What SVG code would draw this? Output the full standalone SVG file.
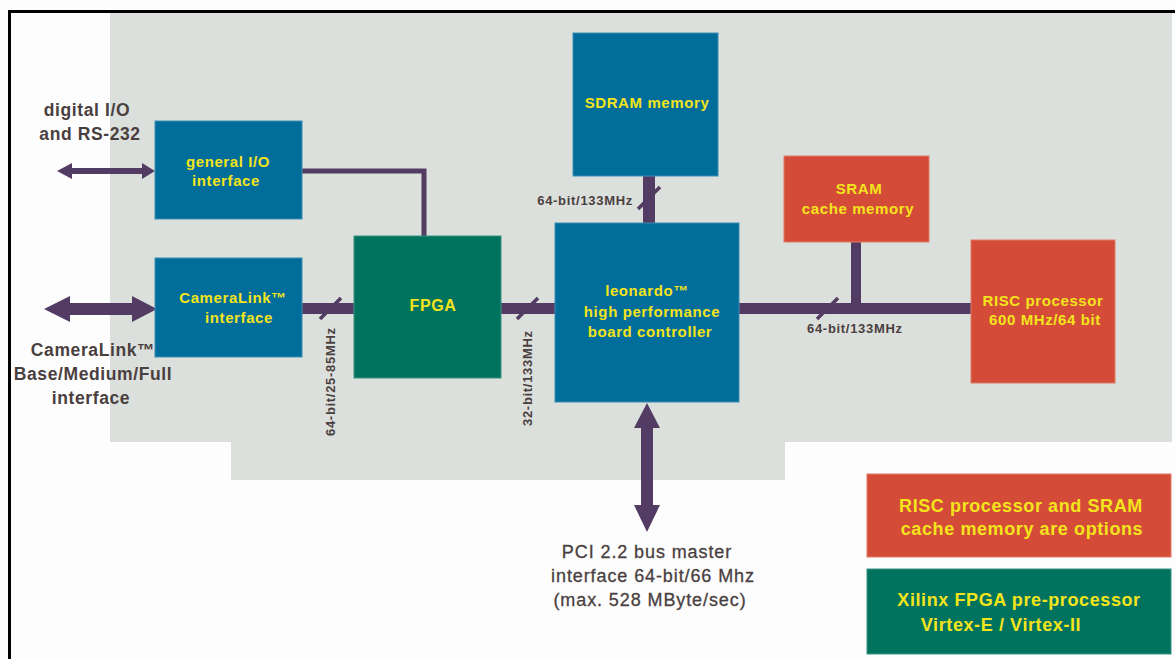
<svg xmlns="http://www.w3.org/2000/svg" width="1175" height="659" viewBox="0 0 1175 659">
<style>
.blue{fill:#006d9a;stroke:#3c8db3;stroke-width:1}
.green{fill:#00735f;stroke:#3a9482;stroke-width:1}
.red{fill:#d44c38;stroke:#e07a68;stroke-width:1}
.bt{font-family:"Liberation Sans",Arial,sans-serif;font-weight:bold;font-size:15px;fill:#f3e41c;text-anchor:middle;letter-spacing:0.6px}
.lt{font-family:"Liberation Sans",Arial,sans-serif;font-weight:bold;font-size:17.5px;fill:#4a3f40;text-anchor:middle;letter-spacing:0.6px}
.st{font-family:"Liberation Sans",Arial,sans-serif;font-weight:bold;font-size:13px;fill:#4a3f40;letter-spacing:0.7px}
.pt{font-family:"Liberation Sans",Arial,sans-serif;font-size:18px;fill:#4a3f40;text-anchor:middle;letter-spacing:0.9px;stroke:#4a3f40;stroke-width:0.3}
.gt{font-family:"Liberation Sans",Arial,sans-serif;font-weight:bold;font-size:18px;fill:#f3e41c;text-anchor:middle;letter-spacing:0.6px}
.bus{fill:#523c63}
.sl{stroke:#523c63;stroke-width:3.5;fill:none}
.wire{stroke:#523c63;stroke-width:5;fill:none}
</style>
<rect x="0" y="0" width="1175" height="659" fill="#fdfdfd"/>
<path d="M110 12 H1172 V442 H785 V480 H231 V442 H110 Z" fill="#dce0dc"/>
<path d="M9.5 659 V11.5 H1175" stroke="#000" stroke-width="3" fill="none"/>

<g id="connectors">
  <!-- digital I/O double arrow -->
  <polygon class="bus" points="57,171 72,163 72,168 142,168 142,163 155,171 142,179 142,174 72,174 72,179"/>
  <!-- general I/O to FPGA -->
  <polyline class="wire" points="302,171 424,171 424,236"/>
  <!-- CameraLink double arrow -->
  <polygon class="bus" points="44,309 70,296 70,303 132,303 132,296 157,309 132,322 132,315 70,315 70,322"/>
  <!-- CameraLink to FPGA -->
  <rect class="bus" x="302" y="303" width="52" height="11"/>
  <line class="sl" x1="320" y1="319" x2="341" y2="298"/>
  <!-- FPGA to leonardo -->
  <rect class="bus" x="501" y="303" width="54" height="11"/>
  <line class="sl" x1="517" y1="319" x2="538" y2="298"/>
  <!-- SDRAM to leonardo -->
  <rect class="bus" x="643" y="176" width="12" height="47"/>
  <line class="sl" x1="638" y1="209" x2="660" y2="187"/>
  <!-- leonardo to RISC -->
  <rect class="bus" x="739" y="303" width="232" height="11"/>
  <line class="sl" x1="817" y1="319" x2="838" y2="298"/>
  <!-- SRAM to bus -->
  <rect class="bus" x="851" y="242" width="10" height="62"/>
  <!-- PCI double arrow -->
  <polygon class="bus" points="647,403 660,428 653,428 653,505 660,505 647,532 634,505 641,505 641,428 634,428"/>
  <text class="st" transform="translate(335,436) rotate(-90)">64-bit/25-85MHz</text>
  <text class="st" transform="translate(532,426) rotate(-90)">32-bit/133MHz</text>
  <text class="st" x="633" y="205" text-anchor="end">64-bit/133MHz</text>
  <text class="st" x="807" y="333">64-bit/133MHz</text>
</g>

<g id="label-digital-io">
  <text class="lt" x="87" y="116">digital I/O</text>
  <text class="lt" x="90" y="140">and RS-232</text>
</g>
<g id="label-cameralink">
  <text class="lt" x="93" y="356">CameraLink™</text>
  <text class="lt" x="93" y="380">Base/Medium/Full</text>
  <text class="lt" x="91" y="404">interface</text>
</g>
<g id="label-pci">
  <text class="pt" x="647" y="558">PCI 2.2 bus master</text>
  <text class="pt" x="653" y="582">interface 64-bit/66 Mhz</text>
  <text class="pt" x="650" y="606">(max. 528 MByte/sec)</text>
</g>

<g id="general-io">
  <rect class="blue" x="155" y="121" width="147" height="98"/>
  <text class="bt" x="228" y="167">general I/O</text>
  <text class="bt" x="226" y="186">interface</text>
</g>
<g id="cameralink-if">
  <rect class="blue" x="155" y="258" width="147" height="99"/>
  <text class="bt" x="233" y="303">CameraLink™</text>
  <text class="bt" x="239" y="323">interface</text>
</g>
<g id="fpga">
  <rect class="green" x="354" y="236" width="147" height="142"/>
  <text class="bt" x="433" y="311" style="font-size:16px">FPGA</text>
</g>
<g id="sdram">
  <rect class="blue" x="573" y="33" width="145" height="143"/>
  <text class="bt" x="647" y="108">SDRAM memory</text>
</g>
<g id="leonardo">
  <rect class="blue" x="555" y="223" width="184" height="179"/>
  <text class="bt" x="647" y="296">leonardo™</text>
  <text class="bt" x="652" y="317">high performance</text>
  <text class="bt" x="650" y="337">board controller</text>
</g>
<g id="sram">
  <rect class="red" x="784" y="156" width="145" height="86"/>
  <text class="bt" x="859" y="194">SRAM</text>
  <text class="bt" x="858" y="214">cache memory</text>
</g>
<g id="risc">
  <rect class="red" x="971" y="240" width="144" height="143"/>
  <text class="bt" x="1043" y="306">RISC processor</text>
  <text class="bt" x="1045" y="325">600 MHz/64 bit</text>
</g>
<g id="legend-options">
  <rect class="red" x="867" y="474" width="304" height="83"/>
  <text class="gt" x="1021" y="512">RISC processor and SRAM</text>
  <text class="gt" x="1022" y="535">cache memory are options</text>
</g>
<g id="legend-fpga">
  <rect class="green" x="867" y="569" width="304" height="85"/>
  <text class="gt" x="1019" y="606">Xilinx FPGA pre-processor</text>
  <text class="gt" x="1001" y="631">Virtex-E / Virtex-II</text>
</g>
</svg>
